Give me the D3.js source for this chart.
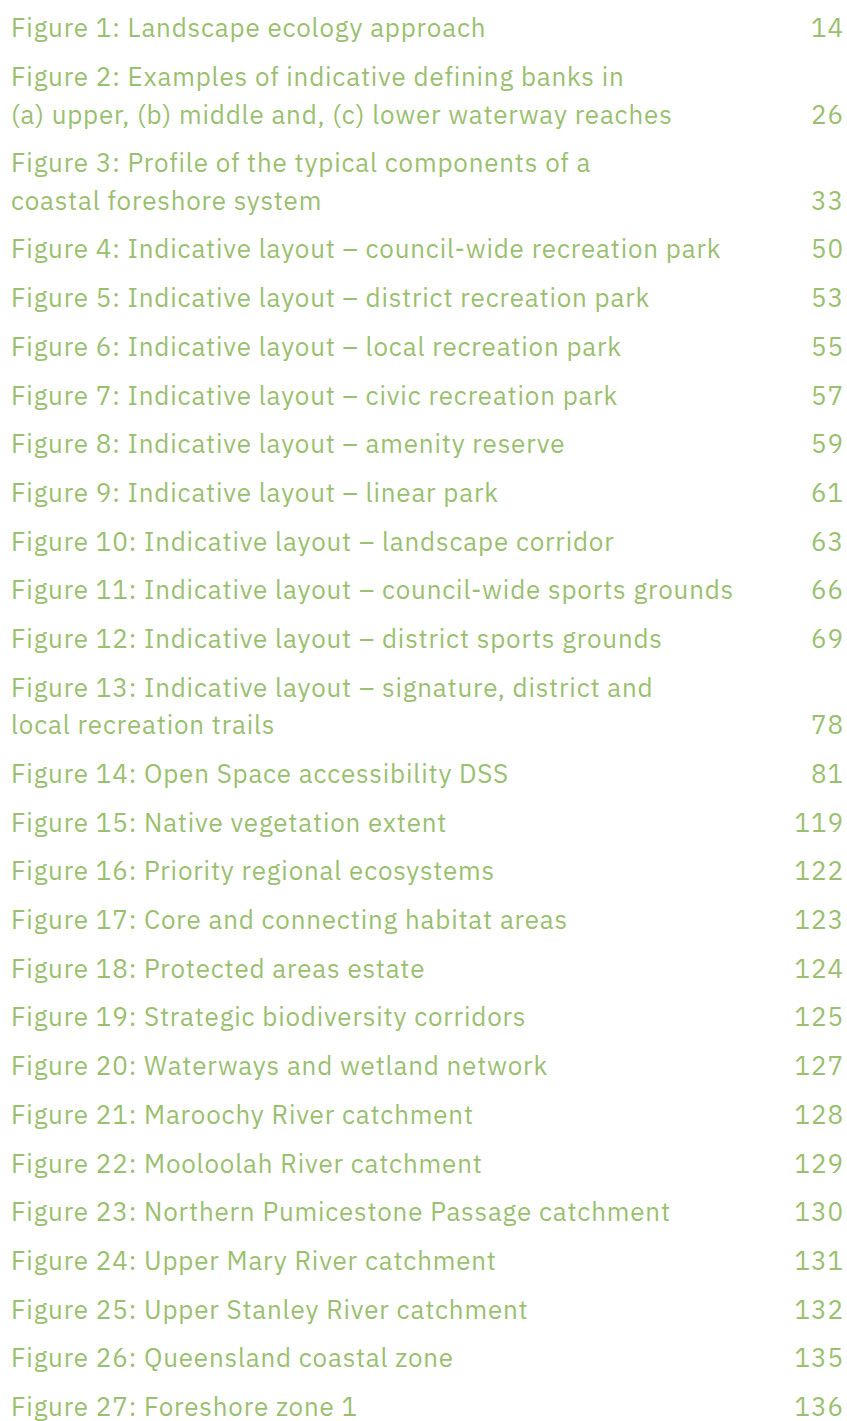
<!DOCTYPE html>
<html>
<head>
<meta charset="utf-8">
<script src="https://cdn.jsdelivr.net/npm/d3@7"></script>
<style>
  html, body { margin: 0; padding: 0; background: #ffffff; }
  svg { display: block; }
</style>
</head>
<body>
<script>
const figureTitles = [
  ["Figure 1: Landscape ecology approach"],
  ["Figure 2: Examples of indicative defining banks in", "(a) upper, (b) middle and, (c) lower waterway reaches"],
  ["Figure 3: Profile of the typical components of a", "coastal foreshore system"],
  ["Figure 4: Indicative layout – council-wide recreation park"],
  ["Figure 5: Indicative layout – district recreation park"],
  ["Figure 6: Indicative layout – local recreation park"],
  ["Figure 7: Indicative layout – civic recreation park"],
  ["Figure 8: Indicative layout – amenity reserve"],
  ["Figure 9: Indicative layout – linear park"],
  ["Figure 10: Indicative layout – landscape corridor"],
  ["Figure 11: Indicative layout – council-wide sports grounds"],
  ["Figure 12: Indicative layout – district sports grounds"],
  ["Figure 13: Indicative layout – signature, district and", "local recreation trails"],
  ["Figure 14: Open Space accessibility DSS"],
  ["Figure 15: Native vegetation extent"],
  ["Figure 16: Priority regional ecosystems"],
  ["Figure 17: Core and connecting habitat areas"],
  ["Figure 18: Protected areas estate"],
  ["Figure 19: Strategic biodiversity corridors"],
  ["Figure 20: Waterways and wetland network"],
  ["Figure 21: Maroochy River catchment"],
  ["Figure 22: Mooloolah River catchment"],
  ["Figure 23: Northern Pumicestone Passage catchment"],
  ["Figure 24: Upper Mary River catchment"],
  ["Figure 25: Upper Stanley River catchment"],
  ["Figure 26: Queensland coastal zone"],
  ["Figure 27: Foreshore zone 1"]
];
const pageNumbers = [14, 26, 33, 50, 53, 55, 57, 59, 61, 63, 66, 69, 78, 81, 119, 122, 123, 124, 125, 127, 128, 129, 130, 131, 132, 135, 136];

const W = 847, H = 1421;
const color = "#9bbf70";
const fontFamily = "'IBM Plex Sans', Roboto, 'Noto Sans', sans-serif";
const fontSize = 26;
const spacing = 0.8;

// entry positions: entry index scale + continuation-line scale
const entryScale = d3.scaleLinear().domain([0, 1]).range([28, 28 + 48.7]);
const lineScale = d3.scaleLinear().domain([0, 1]).range([0, 37.5]);

let extra = 0;
const rows = figureTitles.map((lines, i) => {
  const r = { lines, page: pageNumbers[i], index: i, extraBefore: extra };
  extra += lines.length - 1;
  return r;
});

const svg = d3.select("body").append("svg").attr("width", W).attr("height", H);

const baselineShift = 9.3;
const g = svg.selectAll("g.entry").data(rows).join("g").attr("class", "entry");

g.each(function(d) {
  const sel = d3.select(this);
  const y0 = entryScale(d.index) + lineScale(d.extraBefore);
  d.lines.forEach((t, k) => {
    sel.append("text")
      .attr("x", 11)
      .attr("y", y0 + lineScale(k) + baselineShift)
      .attr("fill", color)
      .attr("font-family", fontFamily)
      .attr("font-size", fontSize)
      .attr("letter-spacing", spacing)
      .text(t);
  });
  sel.append("text")
    .attr("x", 843 + spacing)
    .attr("y", y0 + lineScale(d.lines.length - 1) + baselineShift)
    .attr("text-anchor", "end")
    .attr("fill", color)
    .attr("font-family", fontFamily)
    .attr("font-size", fontSize)
    .attr("letter-spacing", spacing)
    .text(d.page);
});
</script>
</body>
</html>
